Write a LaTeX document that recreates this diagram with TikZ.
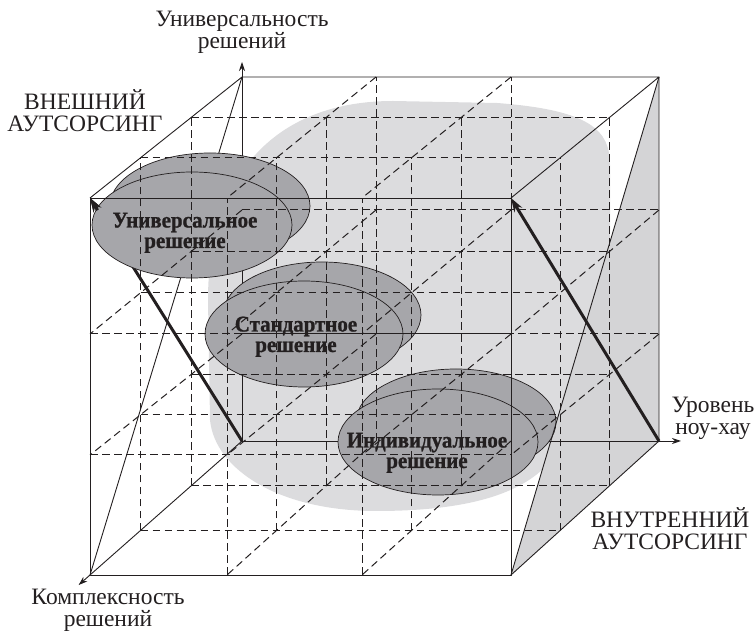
\documentclass[tikz,border=0pt]{standalone}
\usepackage{fontspec}
\setmainfont{Liberation Serif}
\newfontfamily\ellfont[FakeStretch=0.93,FakeBold=1]{Liberation Serif}
\usetikzlibrary{arrows.meta,calc}
\definecolor{blobc}{HTML}{DCDCDE}
\definecolor{tric}{HTML}{D4D4D6}
\definecolor{ellc}{HTML}{A6A6AA}
\definecolor{linec}{HTML}{231F20}
\begin{document}
\begin{tikzpicture}[x=1pt,y=1pt,line join=round,
  edge/.style={draw=linec,line width=0.9pt},
  gridline/.style={draw=linec,line width=1pt,dash pattern=on 7.5pt off 4.5pt},
  bigarrow/.style={draw=linec,line width=3pt,-{Stealth[length=14pt,width=9pt]}},
  axisarrow/.style={draw=linec,line width=0.9pt,-{Stealth[length=9pt,width=6pt]}},
  ell/.style={draw=linec,line width=0.7pt,fill=ellc},
  lbl/.style={font=\fontsize{23.5}{22.5}\selectfont,align=center,text=linec,inner sep=0pt,anchor=base},
  elbl/.style={font=\ellfont\bfseries\fontsize{22.5}{20.5}\selectfont,align=center,text=linec,inner sep=0pt,anchor=base}]
\useasboundingbox (0,0) rectangle (756,632);

% lattice points p<i><j><k>: i along x, j up, k toward front
\foreach \i in {0,1,2,3}{
 \foreach \j in {0,1,2,3}{
  \foreach \k in {0,1,2,3}{
   \pgfmathsetmacro\xa{{242,376,511,659}[\i]}
   \pgfmathsetmacro\xf{{90,227,362,511}[\i]}
   \pgfmathsetmacro\ya{{441,334,210,77}[\j]}
   \pgfmathsetmacro\yf{{575,455,334,198}[\j]}
   \pgfmathsetmacro\X{\xa+(\xf-\xa)*\k/3}
   \pgfmathsetmacro\Y{632-(\ya+(\yf-\ya)*\k/3)}
   \coordinate (p\i\j\k) at (\X,\Y);
 }}}

% light grey area
\fill[blobc] (208,332) .. controls (208,462) and (280,531) .. (393,531)
  -- (497,529) .. controls (590,522) and (610,502) .. (610,467)
  -- (610,392) -- (640,392) -- (590,163) -- (543,163)
  .. controls (510,132) and (450,121) .. (376,121)
  .. controls (280,121) and (215,162) .. (210,212) -- cycle;
% shaded triangle on the right face
\fill[tric] (p330) -- (p300) -- (p303) -- cycle;

% back (hidden) solid lines
\coordinate (ytip) at (242,570);
\coordinate (xtip) at (681,191);
\coordinate (ztip) at ($(p000)!1.075!(p003)$);
\draw[axisarrow] (p000) -- (ytip);
\draw[axisarrow] (p000) -- (xtip);
\draw[axisarrow] (p000) -- (ztip);
\draw[edge] (p030) -- (p003);
\draw[bigarrow] (p000) -- (p033);

% ellipses
\draw[ell] (210,426) ellipse [x radius=100pt,y radius=53pt];
\draw[ell] (192,407) ellipse [x radius=100pt,y radius=53pt];
\draw[ell] (322,317) ellipse [x radius=99pt,y radius=53pt];
\draw[ell] (304,298) ellipse [x radius=99pt,y radius=53pt];
\draw[ell] (456,210) ellipse [x radius=100pt,y radius=53pt];
\draw[ell] (438,190) ellipse [x radius=100pt,y radius=53pt];
\draw[bigarrow] ($(p000)!0.95!(p033)$) -- (p033);

% dashed lattice
\foreach \a in {0,1,2,3}{
 \foreach \b in {0,1,2,3}{
  \pgfmathtruncatemacro\ea{(\a==0||\a==3)?1:0}
  \pgfmathtruncatemacro\eb{(\b==0||\b==3)?1:0}
  \pgfmathtruncatemacro\skip{\ea*\eb}
  \ifnum\skip=0
   \draw[gridline] (p0\a\b) -- (p3\a\b);
   \draw[gridline] (p\a0\b) -- (p\a3\b);
   \draw[gridline] (p\a\b0) -- (p\a\b3);
  \fi
 }}

% visible solid edges
\draw[edge] (p003) -- (p303) -- (p333) -- (p033) -- cycle;
\draw[edge] (p033) -- (p030) -- (p330) -- (p333);
\draw[edge] (p330) -- (p300) -- (p303);
\draw[edge] (p330) -- (p303);
\draw[bigarrow] (p300) -- (p333);

% labels (anchor = baseline of the last line)
\node[lbl] (tY) at (242,583) {Универсальность\\решений};
\node[lbl] (tOut) at (85,500) {ВНЕШНИЙ\\АУТСОРСИНГ};
\node[lbl] (tX) at (713,197) {Уровень\\ноу-хау};
\node[lbl] (tIn) at (670,82) {ВНУТРЕННИЙ\\АУТСОРСИНГ};
\node[lbl] (tZ) at (108,5) {Комплексность\\решений};
\node[elbl] (e1) at (185,384) {Универсальное\\решение};
\node[elbl] (e2) at (296,280) {Стандартное\\решение};
\node[elbl] (e3) at (427,164) {Индивидуальное\\решение};
\end{tikzpicture}
\end{document}
